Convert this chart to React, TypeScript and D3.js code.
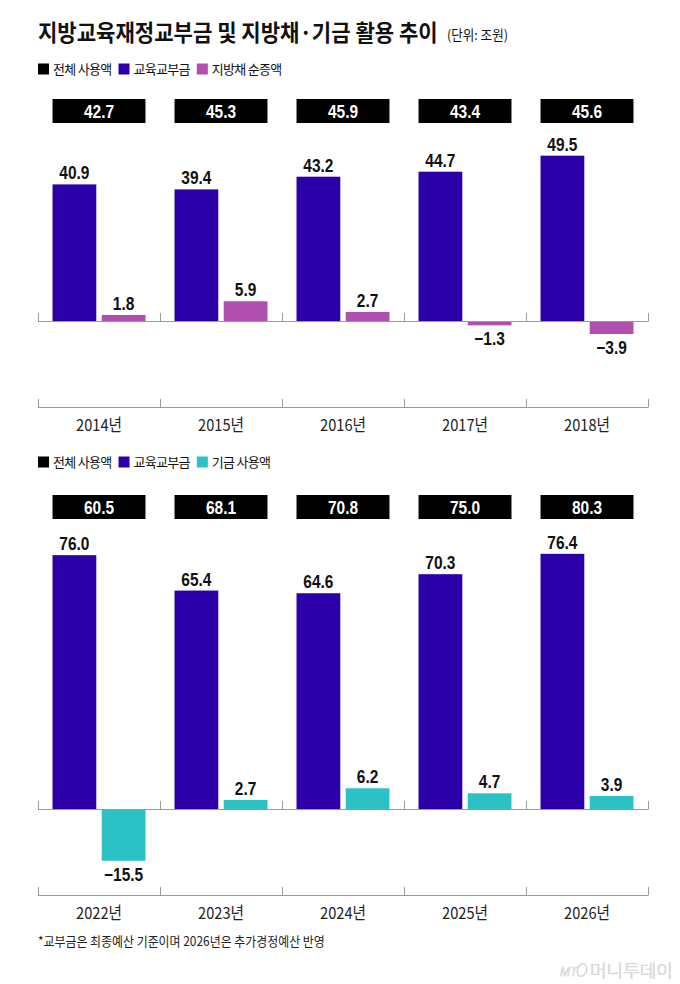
import React, { useEffect, useRef } from 'react';
import * as d3 from 'd3';

// 상단: 지방채 순증액 (2014~2018)
const yearsTop = ['2014년', '2015년', '2016년', '2017년', '2018년'];
const totalTop = [42.7, 45.3, 45.9, 43.4, 45.6];
const grantTop = [40.9, 39.4, 43.2, 44.7, 49.5];
const bondTop = [1.8, 5.9, 2.7, -1.3, -3.9];

// 하단: 기금 사용액 (2022~2026)
const yearsBottom = ['2022년', '2023년', '2024년', '2025년', '2026년'];
const totalBottom = [60.5, 68.1, 70.8, 75.0, 80.3];
const grantBottom = [76.0, 65.4, 64.6, 70.3, 76.4];
const fundBottom = [-15.5, 2.7, 6.2, 4.7, 3.9];

const legendTop = ['전체 사용액', '교육교부금', '지방채 순증액'];
const legendBottom = ['전체 사용액', '교육교부금', '기금 사용액'];

const BLACK = '#000000';
const BLUE = '#2c00a8';
const PINK = '#b14fae';
const TEAL = '#2cc2c5';
const KR = "'Noto Sans CJK KR', 'Noto Sans', sans-serif";
const NUM = "'Liberation Sans', Arial, sans-serif";
const NUM_SX = 0.86; // condensed look of the numbers

const W = 680;
const H = 984;
const PX_PER_UNIT = 3.34;

type Sel = d3.Selection<SVGSVGElement, unknown, null, undefined>;
type TSel = d3.Selection<SVGTextElement, any, any, any>;

interface PanelCfg {
  years: string[];
  totals: number[];
  grants: number[];
  second: number[];
  secondColor: string;
  legend: string[];
  legendY: number;
  boxTop: number;
  zeroY: number;
  axisY: number;
}

const fmt = (v: number) => (v < 0 ? '−' + Math.abs(v).toFixed(1) : v.toFixed(1));

// squeeze a text horizontally to a given width, anchored at (x, y)
function fitText(t: TSel, x: number, y: number, width: number) {
  t.each(function () {
    const node = this as SVGTextElement;
    const len = node.getComputedTextLength() || width;
    d3.select(node).attr('transform', `translate(${x},${y}) scale(${width / len},1)`);
  });
}

function drawPanel(svg: Sel, cfg: PanelCfg) {
  const g = svg.append('g');

  const x = d3.scaleBand<string>()
    .domain(cfg.years)
    .range([38, 648])
    .paddingInner(0.238)
    .paddingOuter(0.119);
  const inner = d3.scaleBand<string>()
    .domain(['grant', 'second'])
    .range([0, x.bandwidth()])
    .paddingInner(0.11);
  const y = d3.scaleLinear()
    .domain([0, 10])
    .range([cfg.zeroY, cfg.zeroY - 10 * PX_PER_UNIT]);

  // legend
  const colors = [BLACK, BLUE, cfg.secondColor];
  let lx = 38;
  cfg.legend.forEach((name, i) => {
    g.append('rect')
      .attr('x', lx).attr('y', cfg.legendY - 5.5)
      .attr('width', 11).attr('height', 11)
      .attr('fill', colors[i]);
    const t = g.append('text')
      .attr('x', lx + 15).attr('y', cfg.legendY)
      .attr('dy', '0.36em')
      .attr('font-family', KR).attr('font-size', 13)
      .attr('letter-spacing', -0.7)
      .attr('fill', '#111')
      .text(name);
    const w = (t.node() as SVGTextElement).getComputedTextLength();
    lx += 15 + w + 7;
  });

  // total boxes
  const boxes = g.append('g');
  boxes.selectAll('rect')
    .data(cfg.years)
    .join('rect')
    .attr('x', d => x(d)!)
    .attr('y', cfg.boxTop)
    .attr('width', x.bandwidth())
    .attr('height', 24)
    .attr('fill', BLACK);
  boxes.selectAll('text')
    .data(cfg.years)
    .join('text')
    .attr('transform', d => `translate(${x(d)! + x.bandwidth() / 2},${cfg.boxTop + 18.5}) scale(${NUM_SX},1)`)
    .attr('text-anchor', 'middle')
    .attr('font-family', NUM).attr('font-weight', 700).attr('font-size', 18)
    .attr('fill', '#fff')
    .text((d, i) => fmt(cfg.totals[i]));

  // bars
  const rows = cfg.years.map((yr, i) => [
    { yr, key: 'grant', v: cfg.grants[i], c: BLUE },
    { yr, key: 'second', v: cfg.second[i], c: cfg.secondColor },
  ]).flat();

  g.append('g').selectAll('rect')
    .data(rows)
    .join('rect')
    .attr('x', d => x(d.yr)! + inner(d.key)!)
    .attr('y', d => y(Math.max(0, d.v)))
    .attr('width', inner.bandwidth())
    .attr('height', d => Math.abs(y(d.v) - y(0)))
    .attr('fill', d => d.c);

  g.append('g').selectAll('text')
    .data(rows)
    .join('text')
    .attr('transform', d => {
      const cx = x(d.yr)! + inner(d.key)! + inner.bandwidth() / 2;
      const ty = d.v >= 0 ? y(d.v) - 5 : y(d.v) + 20;
      return `translate(${cx},${ty}) scale(${NUM_SX},1)`;
    })
    .attr('text-anchor', 'middle')
    .attr('font-family', NUM).attr('font-weight', 700).attr('font-size', 18)
    .attr('fill', '#111')
    .text(d => fmt(d.v));

  // zero line + bottom axis, with small upward ticks at band edges
  const edges = cfg.years.map(d => x(d)! - (x.step() * x.paddingInner()) / 2);
  edges.push(648);
  [cfg.zeroY, cfg.axisY].forEach(ly => {
    g.append('line')
      .attr('x1', 38).attr('x2', 648)
      .attr('y1', ly + 0.5).attr('y2', ly + 0.5)
      .attr('stroke', '#9a9a9a').attr('stroke-width', 1);
    g.append('g').selectAll('line')
      .data(edges)
      .join('line')
      .attr('x1', d => Math.round(d) + 0.5).attr('x2', d => Math.round(d) + 0.5)
      .attr('y1', ly - 8).attr('y2', ly + 0.5)
      .attr('stroke', '#9a9a9a').attr('stroke-width', 1);
  });

  g.append('g').selectAll('text')
    .data(cfg.years)
    .join('text')
    .attr('text-anchor', 'middle')
    .attr('font-family', KR).attr('font-size', 16.5)
    .attr('fill', '#222')
    .text(d => d)
    .each(function (d) {
      fitText(d3.select(this as SVGTextElement), x(d)! + x.bandwidth() / 2, cfg.axisY + 24, 46);
    });
}

const App: React.FC = () => {
  const svgRef = useRef<SVGSVGElement | null>(null);

  useEffect(() => {
    if (!svgRef.current) return;
    const svg = d3.select(svgRef.current);
    svg.selectAll('*').remove();

    svg.append('rect').attr('width', W).attr('height', H).attr('fill', '#fff');

    const title = svg.append('text')
      .attr('font-family', KR)
      .attr('font-size', 22.5).attr('font-weight', 700)
      .attr('fill', '#111')
      .text('지방교육재정교부금 및 지방채·기금 활용 추이');
    fitText(title, 38, 41, 400);
    const unit = svg.append('text')
      .attr('font-family', KR).attr('font-size', 13.5)
      .attr('fill', '#111')
      .text('(단위: 조원)');
    fitText(unit, 447, 40, 61);

    drawPanel(svg, {
      years: yearsTop, totals: totalTop, grants: grantTop, second: bondTop,
      secondColor: PINK, legend: legendTop,
      legendY: 69, boxTop: 99, zeroY: 321, axisY: 407,
    });
    drawPanel(svg, {
      years: yearsBottom, totals: totalBottom, grants: grantBottom, second: fundBottom,
      secondColor: TEAL, legend: legendBottom,
      legendY: 462, boxTop: 495, zeroY: 809, axisY: 895,
    });

    const note = svg.append('text')
      .attr('font-family', KR).attr('font-size', 13)
      .attr('fill', '#222')
      .text('*교부금은 최종예산 기준이며 2026년은 추가경정예산 반영');
    fitText(note, 38, 946, 287);

    // watermark
    const wm = svg.append('g');
    wm.append('text')
      .attr('x', 560).attr('y', 976)
      .attr('font-family', NUM)
      .attr('font-style', 'italic').attr('font-size', 12)
      .attr('fill', 'none').attr('stroke', '#d6d6d6').attr('stroke-width', 0.7)
      .text('MT');
    wm.append('ellipse')
      .attr('cx', 582).attr('cy', 970).attr('rx', 4.5).attr('ry', 6.5)
      .attr('transform', 'rotate(20 582 970)')
      .attr('fill', 'none').attr('stroke', '#d6d6d6').attr('stroke-width', 1.4);
    const brand = wm.append('text')
      .attr('font-family', KR).attr('font-size', 16.5).attr('font-weight', 300)
      .attr('fill', '#ffffff').attr('stroke', '#d4d4d4').attr('stroke-width', 0.7)
      .text('머니투데이');
    fitText(brand, 590, 977, 83);
  }, []);

  return <svg ref={svgRef} width={W} height={H} style={{ display: 'block', position: 'absolute', left: 0, top: 0 }} />;
};

export default App;
